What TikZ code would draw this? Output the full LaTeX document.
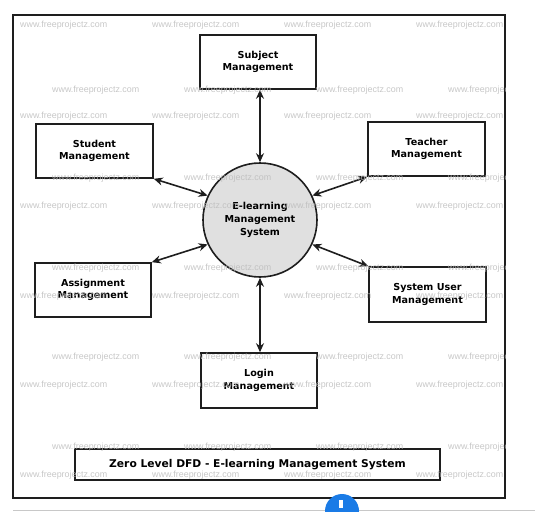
\documentclass[tikz,border=0pt]{standalone}
\usepackage{fontspec}
\setmainfont{DejaVu Sans}
\newfontfamily\wmfont{Liberation Sans}
\usetikzlibrary{arrows.meta}
\definecolor{procfill}{HTML}{E0E0E0}
\definecolor{edgecol}{HTML}{1E1E1E}
\definecolor{wmcol}{HTML}{BDBDBD}
\definecolor{iconblue}{HTML}{1A7BE6}
\definecolor{rulegray}{HTML}{C8C8C8}
\begin{document}
\begin{tikzpicture}[x=1pt,y=-1pt,
  entity/.style={draw=edgecol,line width=1.6pt,fill=white,rectangle,inner sep=0pt,
    align=center,font=\fontsize{9.6}{12.7}\selectfont\bfseries},
  proc/.style={draw=edgecol,line width=1.6pt,fill=procfill,circle,inner sep=0pt,
    minimum size=114pt,align=center,font=\fontsize{9.6}{12.7}\selectfont\bfseries},
  titlebox/.style={draw=edgecol,line width=1.6pt,fill=white,rectangle,inner sep=0pt,
    minimum width=365pt,minimum height=31pt,font=\fontsize{10.7}{13}\selectfont\bfseries},
  flow/.style={line width=1.6pt,draw=edgecol,{Stealth[length=9pt,width=8pt]}-{Stealth[length=9pt,width=8pt]}},
  wm/.style={anchor=west,inner sep=0pt,text=wmcol,opacity=0.85,font=\wmfont\fontsize{8.9}{10}\selectfont}]
\useasboundingbox (0,0) rectangle (535,511);
% outer frame
\draw[draw=edgecol,line width=1.6pt] (13,15) rectangle (505,498);
% bottom rule and icon
\draw[rulegray,line width=1pt] (13,510) -- (535,510);
\begin{scope}
  \clip (0,0) rectangle (535,511);
  \fill[iconblue] (342,511) circle (17pt);
  \fill[white] (339,500) rectangle (343,508);
\end{scope}
% nodes
\node[entity,minimum width=116pt,minimum height=54pt] (subj) at (258,62) {Subject\\Management};
\node[entity,minimum width=117pt,minimum height=54pt] (stu) at (94.5,151) {Student\\Management};
\node[entity,minimum width=117pt,minimum height=54pt] (tea) at (426.5,149) {Teacher\\Management};
\node[entity,minimum width=116pt,minimum height=54pt] (asg) at (93,290) {Assignment\\Management};
\node[entity,minimum width=117pt,minimum height=55pt] (sys) at (427.5,294.5) {System User\\Management};
\node[entity,minimum width=116pt,minimum height=55pt] (log) at (259,380.5) {Login\\Management};
\node[proc] (c) at (260,220) {E-learning\\Management\\System};
\node[titlebox] (title) at (257.5,464.5) {Zero Level DFD - E-learning Management System};
% flows
\draw[flow] (c.north |- subj.south) -- (c.north);
\draw[flow] (stu.south east) -- (c.155);
\draw[flow] (tea.south west) -- (c.25);
\draw[flow] (asg.north east) -- (c.205);
\draw[flow] (sys.north west) -- (c.-25);
\draw[flow] (c.south |- log.north) -- (c.south);
% watermarks
\begin{scope}
  \clip (13,15) rectangle (505,498);
  \foreach \y in {25,116,206,296,385,475}
    \foreach \x in {20,152,284,416}
      \node[wm] (wa-\x-\y) at (\x,\y) {www.freeprojectz.com};
  \foreach \y in {90,178,268,357,447}
    \foreach \x in {52,184,316,448}
      \node[wm] (wb-\x-\y) at (\x,\y) {www.freeprojectz.com};
\end{scope}
\end{tikzpicture}
\end{document}
